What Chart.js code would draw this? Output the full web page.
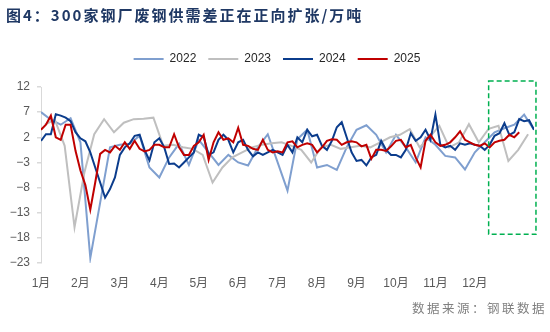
<!DOCTYPE html>
<html>
<head>
<meta charset="utf-8">
<script src="https://cdn.jsdelivr.net/npm/chart.js@4/dist/chart.umd.min.js"></script>
<style>
  body { margin: 0; background: #fff; }
  #wrap { position: relative; width: 550px; height: 332px; }
  #chart { position: absolute; left: 0; top: 0; }
  #title {
    position: absolute; left: 6px; top: 4px; line-height: 20px;
    font: bold 15px "Noto Sans CJK SC", sans-serif; letter-spacing: 2px;
    color: #1f3864; white-space: nowrap;
  }
  #source {
    position: absolute; right: 3px; top: 298px; line-height: 18px;
    font: 12.5px "Noto Sans CJK SC", sans-serif; letter-spacing: 2.5px;
    color: #808080; white-space: nowrap;
  }
</style>
</head>
<body>
<div id="wrap">
  <canvas id="chart" width="550" height="332"></canvas>
  <div id="title">图4：300家钢厂废钢供需差正在正向扩张/万吨</div>
  <div id="source">数据来源：钢联数据</div>
</div>
<script>
// x axis: trading-day index, one month label every 20 days
const months = ['1月','2月','3月','4月','5月','6月','7月','8月','9月','10月','11月','12月'];
const monthStep = 20;
const yTicks = [12, 7, 2, -3, -8, -13, -18, -23];

// 2022 & 2023 weekly (every 5 days), 2024 & 2025 every 2.5 days
const values2022 = [7, 5.5, 4.5, 5.8, 1, -22, -11, 0, 0.5, 0.7, 2.3, -4, -6, -2, 0.7, -3.5, 1.5, -1, -3.5, -1.5,
  -3, -3.6, 0, 2.6, -3, -8.6, 1.6, 3.5, -4, -3.5, -4.5, 0, 3.5, 4.4, 2.5, -1, 2.5, 0, -3, 2,
  0.5, -1.7, -2, -4.4, -1, 1, 3, 3.8, 4.5, 6.5, 3.5];
const values2023 = [4.5, 5.5, 0.3, -15.9, -5, 2.6, 5.6, 3, 4.9, 5.6, 5.7, 5.9, 0.3, 0.5, 0, -0.3, -1.5, -7, -4, -2,
  -1, 0, 0.5, 0.8, 1, 0.3, -0.5, -3, 0, 0.5, -0.3, 0, 0.3, 0, 1, 2, 2.5, 3.6, 0, 2,
  4.3, 0, 1, 4.6, 1, 3.7, 4.3, -2.7, -0.5, 2.6];
const values2024 = [1.3, 2.6, 2.6, 6.6, 6.3, 5.9, 5.2, 3, 1.8, 1.2,
  -1, -4, -7, -10, -8.3, -6, -1.5, 0, 0.8, 2.3,
  2.5, -0.5, -2.6, 1, 1.8, 0, -3.3, -3.2, -4, -3,
  -2, -1, 2.5, 2, -1.5, -1, 1.5, 2.5, 1.5, -1,
  1, 1.5, -0.5, -1.8, -1, -1.5, -1, -0.5, -1, -1.5,
  0.5, -1, 2, 1, 3.5, 2.2, 2.5, 0.3, -0.5, 1.3,
  4, 5, 2, -1, -2.7, -2.5, -3.6, -2, -1.5, 1.3,
  -0.5, -1.5, -1.5, -2, -0.5, 2.8, 1.3, 2, 3.5, 1.5,
  6.5, 0.5, 0, 0.3, -0.5, 0.8, 0.5, 0.8, 0.5, 0.3,
  -0.5, 0.5, 2.3, 2.8, 4.8, 2.5, 3, 5.6, 5.2, 5.4,
  3.5];
const values2025 = [3.5, 4.5, 6.3, 2, 1.5, 4.5, 4.5, -0.7, -4.6, -7.5,
  -12.4, -7, -1.3, -0.5, -1, 0.3, -0.5, 1, -0.3, 1.3,
  -0.3, -0.8, -0.5, 0.5, 0.5, 0, 0, 2.6, 0, -1.5,
  -1.5, 0.3, 1, 2.5, -2.5, 1, 3, 1.5, 1.8, 1,
  3.9, 0.5, 0.3, -0.3, -0.5, 1.5, -0.5, -1, -0.8, -1,
  1, 1.2, 0, 0.5, 0.8, 0.5, -1, 0, 1.3, 1.6,
  1.5, 0.5, 1, 1.2, 1, 0.2, 0.5, -2.3, -0.5, -0.5,
  -0.7, 0.2, 1.3, 1.5, 0, 0.5, -2, -4, 1.3, 2.5,
  1, 0.3, 0.5, 1, 2, 3.2, 1.5, 1, 0.5, 0.3,
  0.8, 0, 1, 1.3, 1.5, 2.5, 2, 3];

// highlighted recent range (dashed box), in axis units
const boxRange = { from: 227, to: 251, top: 13.2, bottom: -17.3 };

function toPoints(values, start, step) {
  return values.map((v, i) => ({ x: start + i * step, y: v }));
}

const highlightBox = {
  id: 'highlightBox',
  afterDraw(chart) {
    const { ctx, scales } = chart;
    const x1 = scales.x.getPixelForValue(boxRange.from);
    const x2 = scales.x.getPixelForValue(boxRange.to);
    const y1 = scales.y.getPixelForValue(boxRange.top);
    const y2 = scales.y.getPixelForValue(boxRange.bottom);
    ctx.save();
    ctx.strokeStyle = '#00b050';
    ctx.lineWidth = 1.5;
    ctx.setLineDash([5, 3]);
    ctx.strokeRect(x1, y1, x2 - x1, y2 - y1);
    ctx.restore();
  }
};

// extra room under the legend, and nudge it right a bit
const legendTweak = {
  id: 'legendTweak',
  beforeInit(chart) {
    const fit = chart.legend.fit;
    chart.legend.fit = function () {
      fit.bind(chart.legend)();
      this.height += 12;
    };
  },
  afterLayout(chart) {
    chart.legend.left += 10;
    chart.legend.right += 10;
  }
};

Chart.defaults.font.family = '"Liberation Sans", "Noto Sans CJK SC", sans-serif';

new Chart(document.getElementById('chart'), {
  type: 'line',
  data: {
    datasets: [
      { label: '2022', data: toPoints(values2022, 0, 5), borderColor: '#7f9fcf', backgroundColor: '#7f9fcf', borderWidth: 2, order: 3 },
      { label: '2023', data: toPoints(values2023, 2, 5), borderColor: '#bfbfbf', backgroundColor: '#bfbfbf', borderWidth: 2, order: 2 },
      { label: '2024', data: toPoints(values2024, 0, 2.5), borderColor: '#0b3c8c', backgroundColor: '#0b3c8c', borderWidth: 2, order: 1 },
      { label: '2025', data: toPoints(values2025, 0, 2.5), borderColor: '#c00000', backgroundColor: '#c00000', borderWidth: 2, order: 0 }
    ]
  },
  options: {
    responsive: false,
    animation: false,
    devicePixelRatio: 1,
    elements: {
      line: { tension: 0 },
      point: { radius: 0 }
    },
    layout: { padding: { top: 41, right: 16, left: 0, bottom: 0 } },
    plugins: {
      tooltip: { enabled: false },
      legend: {
        position: 'top',
        labels: {
          usePointStyle: true,
          pointStyle: 'line',
          pointStyleWidth: 30,
          padding: 12,
          color: '#262626',
          font: { size: 12 },
          sort: (a, b) => a.datasetIndex - b.datasetIndex
        }
      }
    },
    scales: {
      x: {
        type: 'linear',
        min: 0,
        max: 250,
        grid: { display: false, drawTicks: false },
        border: { display: false },
        afterBuildTicks: s => { s.ticks = months.map((m, i) => ({ value: i * monthStep })); },
        afterFit: s => { s.height = 69; },
        ticks: {
          autoSkip: false,
          maxRotation: 0,
          padding: 13,
          color: '#595959',
          font: { size: 12 },
          callback: v => months[v / monthStep]
        }
      },
      y: {
        min: -23,
        max: 12,
        afterBuildTicks: s => { s.ticks = yTicks.map(v => ({ value: v })); },
        afterFit: s => { s.width = 41; },
        grid: {
          color: c => (c.tick && c.tick.value === 0 ? '#d9d9d9' : 'transparent'),
          tickColor: '#d9d9d9',
          tickLength: 4,
          lineWidth: 1.5
        },
        border: { color: '#d9d9d9' },
        ticks: {
          padding: 7,
          color: '#595959',
          font: { size: 12 },
          callback: v => String(v).replace('-', '\u2212')
        }
      }
    }
  },
  plugins: [highlightBox, legendTweak]
});
</script>
</body>
</html>
